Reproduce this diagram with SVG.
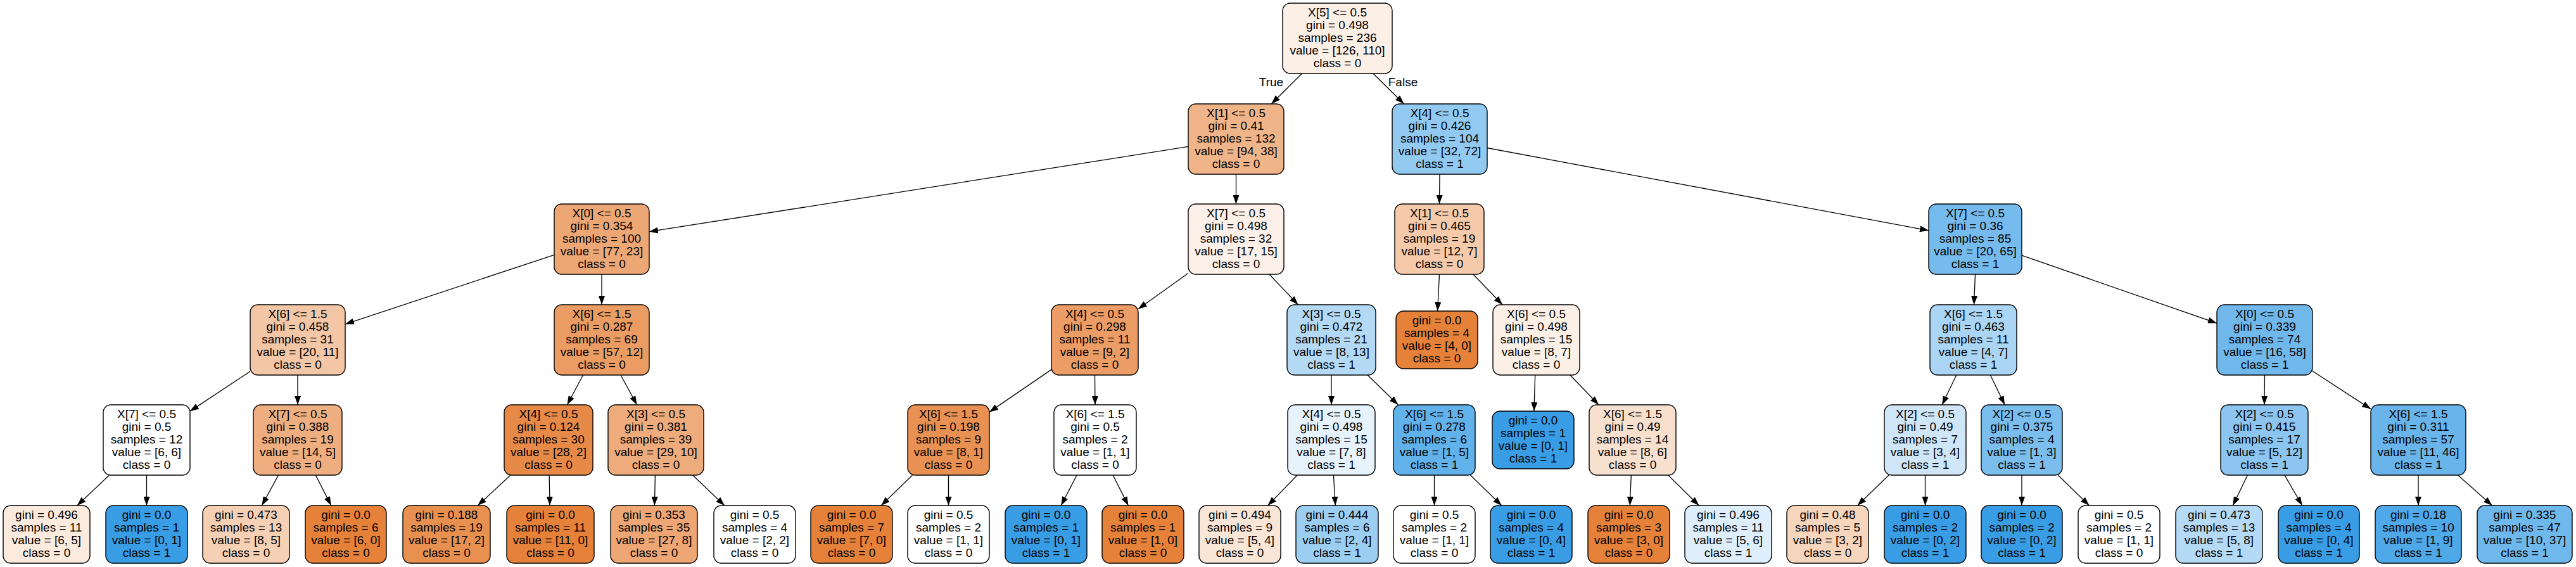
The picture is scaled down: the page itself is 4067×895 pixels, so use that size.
<svg xmlns="http://www.w3.org/2000/svg" width="4067" height="895" viewBox="0 0 4067 895">
<style>
.box{stroke:#000;stroke-width:1.4}
.t{font-family:"Liberation Sans",Arial,Helvetica,sans-serif;font-size:19px;text-anchor:middle;fill:#000}
.e{stroke:#000;stroke-width:1.3;fill:none;marker-end:url(#ah)}
</style>
<defs>
<marker id="ah" markerUnits="userSpaceOnUse" markerWidth="14" markerHeight="10" refX="14" refY="5" orient="auto" viewBox="0 0 14 10">
<path d="M0,0 L14,5 L0,10 z" fill="#000"/>
</marker>
</defs>
<rect width="4067" height="895" fill="#fff"/>
<g id="edges">
<line class="e" x1="2055.6" y1="116" x2="2007.3" y2="164"/>
<line class="e" x1="2167.9" y1="116" x2="2216.6" y2="164"/>
<line class="e" x1="1876" y1="231.4" x2="1025" y2="365.7"/>
<line class="e" x1="1951.5" y1="275" x2="1951.5" y2="322"/>
<line class="e" x1="2273" y1="275" x2="2272.5" y2="322"/>
<line class="e" x1="2348" y1="233.5" x2="3045" y2="363.8"/>
<line class="e" x1="875" y1="402.3" x2="545" y2="511.7"/>
<line class="e" x1="950" y1="433" x2="950" y2="481"/>
<line class="e" x1="1876" y1="431.3" x2="1797" y2="487.7"/>
<line class="e" x1="2004" y1="433" x2="2049.5" y2="481"/>
<line class="e" x1="2272.5" y1="433" x2="2269.6" y2="491"/>
<line class="e" x1="2325.9" y1="433" x2="2372.1" y2="481"/>
<line class="e" x1="3118.5" y1="433" x2="3116.5" y2="481"/>
<line class="e" x1="3192" y1="403.1" x2="3500" y2="510.2"/>
<line class="e" x1="395" y1="586.2" x2="300" y2="649.1"/>
<line class="e" x1="470" y1="592" x2="470" y2="639"/>
<line class="e" x1="920.5" y1="592" x2="895.5" y2="639"/>
<line class="e" x1="980" y1="592" x2="1005.5" y2="639"/>
<line class="e" x1="1660" y1="583.4" x2="1562" y2="650.4"/>
<line class="e" x1="1728.5" y1="592" x2="1729" y2="639"/>
<line class="e" x1="2102" y1="592" x2="2102" y2="639"/>
<line class="e" x1="2159.1" y1="592" x2="2207.4" y2="639"/>
<line class="e" x1="2423.7" y1="592" x2="2421.9" y2="649"/>
<line class="e" x1="2478.9" y1="592" x2="2524.1" y2="639"/>
<line class="e" x1="3088.8" y1="592" x2="3066.2" y2="639"/>
<line class="e" x1="3142.4" y1="592" x2="3165.1" y2="639"/>
<line class="e" x1="3575.5" y1="592" x2="3575" y2="639"/>
<line class="e" x1="3651" y1="585.7" x2="3743" y2="645.6"/>
<line class="e" x1="172.6" y1="750" x2="121.8" y2="798"/>
<line class="e" x1="231.5" y1="750" x2="231.5" y2="798"/>
<line class="e" x1="439.6" y1="750" x2="413.4" y2="798"/>
<line class="e" x1="498.3" y1="750" x2="522.8" y2="798"/>
<line class="e" x1="806" y1="750" x2="754.2" y2="798"/>
<line class="e" x1="867.1" y1="750" x2="868.1" y2="798"/>
<line class="e" x1="1034.4" y1="750" x2="1033.4" y2="798"/>
<line class="e" x1="1093.6" y1="750" x2="1143.9" y2="798"/>
<line class="e" x1="1440.5" y1="750" x2="1391.2" y2="798"/>
<line class="e" x1="1497.5" y1="750" x2="1497.5" y2="798"/>
<line class="e" x1="1700.1" y1="750" x2="1675.2" y2="798"/>
<line class="e" x1="1757.1" y1="750" x2="1781.4" y2="798"/>
<line class="e" x1="2048.2" y1="750" x2="2001.6" y2="798"/>
<line class="e" x1="2105.4" y1="750" x2="2108.3" y2="798"/>
<line class="e" x1="2264.5" y1="750" x2="2264.5" y2="798"/>
<line class="e" x1="2321.5" y1="750" x2="2370.8" y2="798"/>
<line class="e" x1="2575.3" y1="750" x2="2573.3" y2="798"/>
<line class="e" x1="2633.7" y1="750" x2="2682.4" y2="798"/>
<line class="e" x1="2982.1" y1="750" x2="2932.5" y2="798"/>
<line class="e" x1="3039.5" y1="750" x2="3039.5" y2="798"/>
<line class="e" x1="3192" y1="750" x2="3192" y2="798"/>
<line class="e" x1="3249.2" y1="750" x2="3298.6" y2="798"/>
<line class="e" x1="3548.4" y1="750" x2="3525.3" y2="798"/>
<line class="e" x1="3607" y1="750" x2="3634.7" y2="798"/>
<line class="e" x1="3818" y1="750" x2="3818" y2="798"/>
<line class="e" x1="3880.6" y1="750" x2="3934.7" y2="798"/>
<text class="t" x="2007" y="136">True</text>
<text class="t" x="2215" y="136">False</text>
</g>
<g id="node0"><rect class="box" x="2025" y="5" width="173" height="111" rx="12" fill="#fcefe6"/><text class="t"><tspan x="2111.5" y="26">X[5] &lt;= 0.5</tspan><tspan x="2111.5" y="46">gini = 0.498</tspan><tspan x="2111.5" y="66">samples = 236</tspan><tspan x="2111.5" y="86">value = [126, 110]</tspan><tspan x="2111.5" y="106">class = 0</tspan></text></g>
<g id="node1"><rect class="box" x="1876" y="164" width="151" height="111" rx="12" fill="#f0b489"/><text class="t"><tspan x="1951.5" y="185">X[1] &lt;= 0.5</tspan><tspan x="1951.5" y="205">gini = 0.41</tspan><tspan x="1951.5" y="225">samples = 132</tspan><tspan x="1951.5" y="245">value = [94, 38]</tspan><tspan x="1951.5" y="265">class = 0</tspan></text></g>
<g id="node2"><rect class="box" x="2198" y="164" width="150" height="111" rx="12" fill="#91c9f1"/><text class="t"><tspan x="2273" y="185">X[4] &lt;= 0.5</tspan><tspan x="2273" y="205">gini = 0.426</tspan><tspan x="2273" y="225">samples = 104</tspan><tspan x="2273" y="245">value = [32, 72]</tspan><tspan x="2273" y="265">class = 1</tspan></text></g>
<g id="node3"><rect class="box" x="875" y="322" width="150" height="111" rx="12" fill="#eda774"/><text class="t"><tspan x="950" y="343">X[0] &lt;= 0.5</tspan><tspan x="950" y="363">gini = 0.354</tspan><tspan x="950" y="383">samples = 100</tspan><tspan x="950" y="403">value = [77, 23]</tspan><tspan x="950" y="423">class = 0</tspan></text></g>
<g id="node4"><rect class="box" x="1876" y="322" width="151" height="111" rx="12" fill="#fcf0e8"/><text class="t"><tspan x="1951.5" y="343">X[7] &lt;= 0.5</tspan><tspan x="1951.5" y="363">gini = 0.498</tspan><tspan x="1951.5" y="383">samples = 32</tspan><tspan x="1951.5" y="403">value = [17, 15]</tspan><tspan x="1951.5" y="423">class = 0</tspan></text></g>
<g id="node5"><rect class="box" x="2202" y="322" width="141" height="111" rx="12" fill="#f4caab"/><text class="t"><tspan x="2272.5" y="343">X[1] &lt;= 0.5</tspan><tspan x="2272.5" y="363">gini = 0.465</tspan><tspan x="2272.5" y="383">samples = 19</tspan><tspan x="2272.5" y="403">value = [12, 7]</tspan><tspan x="2272.5" y="423">class = 0</tspan></text></g>
<g id="node6"><rect class="box" x="3045" y="322" width="147" height="111" rx="12" fill="#76bbed"/><text class="t"><tspan x="3118.5" y="343">X[7] &lt;= 0.5</tspan><tspan x="3118.5" y="363">gini = 0.36</tspan><tspan x="3118.5" y="383">samples = 85</tspan><tspan x="3118.5" y="403">value = [20, 65]</tspan><tspan x="3118.5" y="423">class = 1</tspan></text></g>
<g id="node7"><rect class="box" x="395" y="481" width="150" height="111" rx="12" fill="#f3c6a6"/><text class="t"><tspan x="470" y="502">X[6] &lt;= 1.5</tspan><tspan x="470" y="522">gini = 0.458</tspan><tspan x="470" y="542">samples = 31</tspan><tspan x="470" y="562">value = [20, 11]</tspan><tspan x="470" y="582">class = 0</tspan></text></g>
<g id="node8"><rect class="box" x="875" y="481" width="150" height="111" rx="12" fill="#ea9c63"/><text class="t"><tspan x="950" y="502">X[6] &lt;= 1.5</tspan><tspan x="950" y="522">gini = 0.287</tspan><tspan x="950" y="542">samples = 69</tspan><tspan x="950" y="562">value = [57, 12]</tspan><tspan x="950" y="582">class = 0</tspan></text></g>
<g id="node9"><rect class="box" x="1660" y="481" width="137" height="111" rx="12" fill="#eb9d65"/><text class="t"><tspan x="1728.5" y="502">X[4] &lt;= 0.5</tspan><tspan x="1728.5" y="522">gini = 0.298</tspan><tspan x="1728.5" y="542">samples = 11</tspan><tspan x="1728.5" y="562">value = [9, 2]</tspan><tspan x="1728.5" y="582">class = 0</tspan></text></g>
<g id="node10"><rect class="box" x="2032" y="481" width="140" height="111" rx="12" fill="#b3d9f5"/><text class="t"><tspan x="2102" y="502">X[3] &lt;= 0.5</tspan><tspan x="2102" y="522">gini = 0.472</tspan><tspan x="2102" y="542">samples = 21</tspan><tspan x="2102" y="562">value = [8, 13]</tspan><tspan x="2102" y="582">class = 1</tspan></text></g>
<g id="node11"><rect class="box" x="2204" y="491" width="129" height="91" rx="12" fill="#e58139"/><text class="t"><tspan x="2268.5" y="512">gini = 0.0</tspan><tspan x="2268.5" y="532">samples = 4</tspan><tspan x="2268.5" y="552">value = [4, 0]</tspan><tspan x="2268.5" y="572">class = 0</tspan></text></g>
<g id="node12"><rect class="box" x="2357" y="481" width="137" height="111" rx="12" fill="#fcefe6"/><text class="t"><tspan x="2425.5" y="502">X[6] &lt;= 0.5</tspan><tspan x="2425.5" y="522">gini = 0.498</tspan><tspan x="2425.5" y="542">samples = 15</tspan><tspan x="2425.5" y="562">value = [8, 7]</tspan><tspan x="2425.5" y="582">class = 0</tspan></text></g>
<g id="node13"><rect class="box" x="3047" y="481" width="137" height="111" rx="12" fill="#aad5f4"/><text class="t"><tspan x="3115.5" y="502">X[6] &lt;= 1.5</tspan><tspan x="3115.5" y="522">gini = 0.463</tspan><tspan x="3115.5" y="542">samples = 11</tspan><tspan x="3115.5" y="562">value = [4, 7]</tspan><tspan x="3115.5" y="582">class = 1</tspan></text></g>
<g id="node14"><rect class="box" x="3500" y="481" width="151" height="111" rx="12" fill="#70b8ec"/><text class="t"><tspan x="3575.5" y="502">X[0] &lt;= 0.5</tspan><tspan x="3575.5" y="522">gini = 0.339</tspan><tspan x="3575.5" y="542">samples = 74</tspan><tspan x="3575.5" y="562">value = [16, 58]</tspan><tspan x="3575.5" y="582">class = 1</tspan></text></g>
<g id="node15"><rect class="box" x="163" y="639" width="137" height="111" rx="12" fill="#ffffff"/><text class="t"><tspan x="231.5" y="660">X[7] &lt;= 0.5</tspan><tspan x="231.5" y="680">gini = 0.5</tspan><tspan x="231.5" y="700">samples = 12</tspan><tspan x="231.5" y="720">value = [6, 6]</tspan><tspan x="231.5" y="740">class = 0</tspan></text></g>
<g id="node16"><rect class="box" x="400" y="639" width="140" height="111" rx="12" fill="#eeae80"/><text class="t"><tspan x="470" y="660">X[7] &lt;= 0.5</tspan><tspan x="470" y="680">gini = 0.388</tspan><tspan x="470" y="700">samples = 19</tspan><tspan x="470" y="720">value = [14, 5]</tspan><tspan x="470" y="740">class = 0</tspan></text></g>
<g id="node17"><rect class="box" x="796" y="639" width="140" height="111" rx="12" fill="#e78a47"/><text class="t"><tspan x="866" y="660">X[4] &lt;= 0.5</tspan><tspan x="866" y="680">gini = 0.124</tspan><tspan x="866" y="700">samples = 30</tspan><tspan x="866" y="720">value = [28, 2]</tspan><tspan x="866" y="740">class = 0</tspan></text></g>
<g id="node18"><rect class="box" x="960" y="639" width="151" height="111" rx="12" fill="#eeac7d"/><text class="t"><tspan x="1035.5" y="660">X[3] &lt;= 0.5</tspan><tspan x="1035.5" y="680">gini = 0.381</tspan><tspan x="1035.5" y="700">samples = 39</tspan><tspan x="1035.5" y="720">value = [29, 10]</tspan><tspan x="1035.5" y="740">class = 0</tspan></text></g>
<g id="node19"><rect class="box" x="1433" y="639" width="129" height="111" rx="12" fill="#e89152"/><text class="t"><tspan x="1497.5" y="660">X[6] &lt;= 1.5</tspan><tspan x="1497.5" y="680">gini = 0.198</tspan><tspan x="1497.5" y="700">samples = 9</tspan><tspan x="1497.5" y="720">value = [8, 1]</tspan><tspan x="1497.5" y="740">class = 0</tspan></text></g>
<g id="node20"><rect class="box" x="1664" y="639" width="130" height="111" rx="12" fill="#ffffff"/><text class="t"><tspan x="1729" y="660">X[6] &lt;= 1.5</tspan><tspan x="1729" y="680">gini = 0.5</tspan><tspan x="1729" y="700">samples = 2</tspan><tspan x="1729" y="720">value = [1, 1]</tspan><tspan x="1729" y="740">class = 0</tspan></text></g>
<g id="node21"><rect class="box" x="2033" y="639" width="138" height="111" rx="12" fill="#e6f3fc"/><text class="t"><tspan x="2102" y="660">X[4] &lt;= 0.5</tspan><tspan x="2102" y="680">gini = 0.498</tspan><tspan x="2102" y="700">samples = 15</tspan><tspan x="2102" y="720">value = [7, 8]</tspan><tspan x="2102" y="740">class = 1</tspan></text></g>
<g id="node22"><rect class="box" x="2200" y="639" width="129" height="111" rx="12" fill="#61b1ea"/><text class="t"><tspan x="2264.5" y="660">X[6] &lt;= 1.5</tspan><tspan x="2264.5" y="680">gini = 0.278</tspan><tspan x="2264.5" y="700">samples = 6</tspan><tspan x="2264.5" y="720">value = [1, 5]</tspan><tspan x="2264.5" y="740">class = 1</tspan></text></g>
<g id="node23"><rect class="box" x="2356" y="649" width="129" height="91" rx="12" fill="#399de5"/><text class="t"><tspan x="2420.5" y="670">gini = 0.0</tspan><tspan x="2420.5" y="690">samples = 1</tspan><tspan x="2420.5" y="710">value = [0, 1]</tspan><tspan x="2420.5" y="730">class = 1</tspan></text></g>
<g id="node24"><rect class="box" x="2509" y="639" width="137" height="111" rx="12" fill="#f8e0ce"/><text class="t"><tspan x="2577.5" y="660">X[6] &lt;= 1.5</tspan><tspan x="2577.5" y="680">gini = 0.49</tspan><tspan x="2577.5" y="700">samples = 14</tspan><tspan x="2577.5" y="720">value = [8, 6]</tspan><tspan x="2577.5" y="740">class = 0</tspan></text></g>
<g id="node25"><rect class="box" x="2975" y="639" width="129" height="111" rx="12" fill="#cee6f8"/><text class="t"><tspan x="3039.5" y="660">X[2] &lt;= 0.5</tspan><tspan x="3039.5" y="680">gini = 0.49</tspan><tspan x="3039.5" y="700">samples = 7</tspan><tspan x="3039.5" y="720">value = [3, 4]</tspan><tspan x="3039.5" y="740">class = 1</tspan></text></g>
<g id="node26"><rect class="box" x="3128" y="639" width="128" height="111" rx="12" fill="#7bbeee"/><text class="t"><tspan x="3192" y="660">X[2] &lt;= 0.5</tspan><tspan x="3192" y="680">gini = 0.375</tspan><tspan x="3192" y="700">samples = 4</tspan><tspan x="3192" y="720">value = [1, 3]</tspan><tspan x="3192" y="740">class = 1</tspan></text></g>
<g id="node27"><rect class="box" x="3506" y="639" width="138" height="111" rx="12" fill="#8cc6f0"/><text class="t"><tspan x="3575" y="660">X[2] &lt;= 0.5</tspan><tspan x="3575" y="680">gini = 0.415</tspan><tspan x="3575" y="700">samples = 17</tspan><tspan x="3575" y="720">value = [5, 12]</tspan><tspan x="3575" y="740">class = 1</tspan></text></g>
<g id="node28"><rect class="box" x="3743" y="639" width="150" height="111" rx="12" fill="#68b4eb"/><text class="t"><tspan x="3818" y="660">X[6] &lt;= 1.5</tspan><tspan x="3818" y="680">gini = 0.311</tspan><tspan x="3818" y="700">samples = 57</tspan><tspan x="3818" y="720">value = [11, 46]</tspan><tspan x="3818" y="740">class = 1</tspan></text></g>
<g id="node29"><rect class="box" x="5" y="798" width="137" height="91" rx="12" fill="#fbeade"/><text class="t"><tspan x="73.5" y="819">gini = 0.496</tspan><tspan x="73.5" y="839">samples = 11</tspan><tspan x="73.5" y="859">value = [6, 5]</tspan><tspan x="73.5" y="879">class = 0</tspan></text></g>
<g id="node30"><rect class="box" x="167" y="798" width="129" height="91" rx="12" fill="#399de5"/><text class="t"><tspan x="231.5" y="819">gini = 0.0</tspan><tspan x="231.5" y="839">samples = 1</tspan><tspan x="231.5" y="859">value = [0, 1]</tspan><tspan x="231.5" y="879">class = 1</tspan></text></g>
<g id="node31"><rect class="box" x="320" y="798" width="137" height="91" rx="12" fill="#f5d0b5"/><text class="t"><tspan x="388.5" y="819">gini = 0.473</tspan><tspan x="388.5" y="839">samples = 13</tspan><tspan x="388.5" y="859">value = [8, 5]</tspan><tspan x="388.5" y="879">class = 0</tspan></text></g>
<g id="node32"><rect class="box" x="482" y="798" width="128" height="91" rx="12" fill="#e58139"/><text class="t"><tspan x="546" y="819">gini = 0.0</tspan><tspan x="546" y="839">samples = 6</tspan><tspan x="546" y="859">value = [6, 0]</tspan><tspan x="546" y="879">class = 0</tspan></text></g>
<g id="node33"><rect class="box" x="636" y="798" width="138" height="91" rx="12" fill="#e89050"/><text class="t"><tspan x="705" y="819">gini = 0.188</tspan><tspan x="705" y="839">samples = 19</tspan><tspan x="705" y="859">value = [17, 2]</tspan><tspan x="705" y="879">class = 0</tspan></text></g>
<g id="node34"><rect class="box" x="800" y="798" width="138" height="91" rx="12" fill="#e58139"/><text class="t"><tspan x="869" y="819">gini = 0.0</tspan><tspan x="869" y="839">samples = 11</tspan><tspan x="869" y="859">value = [11, 0]</tspan><tspan x="869" y="879">class = 0</tspan></text></g>
<g id="node35"><rect class="box" x="964" y="798" width="137" height="91" rx="12" fill="#eda674"/><text class="t"><tspan x="1032.5" y="819">gini = 0.353</tspan><tspan x="1032.5" y="839">samples = 35</tspan><tspan x="1032.5" y="859">value = [27, 8]</tspan><tspan x="1032.5" y="879">class = 0</tspan></text></g>
<g id="node36"><rect class="box" x="1127" y="798" width="129" height="91" rx="12" fill="#ffffff"/><text class="t"><tspan x="1191.5" y="819">gini = 0.5</tspan><tspan x="1191.5" y="839">samples = 4</tspan><tspan x="1191.5" y="859">value = [2, 2]</tspan><tspan x="1191.5" y="879">class = 0</tspan></text></g>
<g id="node37"><rect class="box" x="1280" y="798" width="129" height="91" rx="12" fill="#e58139"/><text class="t"><tspan x="1344.5" y="819">gini = 0.0</tspan><tspan x="1344.5" y="839">samples = 7</tspan><tspan x="1344.5" y="859">value = [7, 0]</tspan><tspan x="1344.5" y="879">class = 0</tspan></text></g>
<g id="node38"><rect class="box" x="1433" y="798" width="129" height="91" rx="12" fill="#ffffff"/><text class="t"><tspan x="1497.5" y="819">gini = 0.5</tspan><tspan x="1497.5" y="839">samples = 2</tspan><tspan x="1497.5" y="859">value = [1, 1]</tspan><tspan x="1497.5" y="879">class = 0</tspan></text></g>
<g id="node39"><rect class="box" x="1587" y="798" width="129" height="91" rx="12" fill="#399de5"/><text class="t"><tspan x="1651.5" y="819">gini = 0.0</tspan><tspan x="1651.5" y="839">samples = 1</tspan><tspan x="1651.5" y="859">value = [0, 1]</tspan><tspan x="1651.5" y="879">class = 1</tspan></text></g>
<g id="node40"><rect class="box" x="1740" y="798" width="129" height="91" rx="12" fill="#e58139"/><text class="t"><tspan x="1804.5" y="819">gini = 0.0</tspan><tspan x="1804.5" y="839">samples = 1</tspan><tspan x="1804.5" y="859">value = [1, 0]</tspan><tspan x="1804.5" y="879">class = 0</tspan></text></g>
<g id="node41"><rect class="box" x="1893" y="798" width="129" height="91" rx="12" fill="#fae6d7"/><text class="t"><tspan x="1957.5" y="819">gini = 0.494</tspan><tspan x="1957.5" y="839">samples = 9</tspan><tspan x="1957.5" y="859">value = [5, 4]</tspan><tspan x="1957.5" y="879">class = 0</tspan></text></g>
<g id="node42"><rect class="box" x="2046" y="798" width="130" height="91" rx="12" fill="#9ccef2"/><text class="t"><tspan x="2111" y="819">gini = 0.444</tspan><tspan x="2111" y="839">samples = 6</tspan><tspan x="2111" y="859">value = [2, 4]</tspan><tspan x="2111" y="879">class = 1</tspan></text></g>
<g id="node43"><rect class="box" x="2200" y="798" width="129" height="91" rx="12" fill="#ffffff"/><text class="t"><tspan x="2264.5" y="819">gini = 0.5</tspan><tspan x="2264.5" y="839">samples = 2</tspan><tspan x="2264.5" y="859">value = [1, 1]</tspan><tspan x="2264.5" y="879">class = 0</tspan></text></g>
<g id="node44"><rect class="box" x="2353" y="798" width="129" height="91" rx="12" fill="#399de5"/><text class="t"><tspan x="2417.5" y="819">gini = 0.0</tspan><tspan x="2417.5" y="839">samples = 4</tspan><tspan x="2417.5" y="859">value = [0, 4]</tspan><tspan x="2417.5" y="879">class = 1</tspan></text></g>
<g id="node45"><rect class="box" x="2507" y="798" width="129" height="91" rx="12" fill="#e58139"/><text class="t"><tspan x="2571.5" y="819">gini = 0.0</tspan><tspan x="2571.5" y="839">samples = 3</tspan><tspan x="2571.5" y="859">value = [3, 0]</tspan><tspan x="2571.5" y="879">class = 0</tspan></text></g>
<g id="node46"><rect class="box" x="2660" y="798" width="137" height="91" rx="12" fill="#deeffb"/><text class="t"><tspan x="2728.5" y="819">gini = 0.496</tspan><tspan x="2728.5" y="839">samples = 11</tspan><tspan x="2728.5" y="859">value = [5, 6]</tspan><tspan x="2728.5" y="879">class = 1</tspan></text></g>
<g id="node47"><rect class="box" x="2821" y="798" width="129" height="91" rx="12" fill="#f6d5bd"/><text class="t"><tspan x="2885.5" y="819">gini = 0.48</tspan><tspan x="2885.5" y="839">samples = 5</tspan><tspan x="2885.5" y="859">value = [3, 2]</tspan><tspan x="2885.5" y="879">class = 0</tspan></text></g>
<g id="node48"><rect class="box" x="2975" y="798" width="129" height="91" rx="12" fill="#399de5"/><text class="t"><tspan x="3039.5" y="819">gini = 0.0</tspan><tspan x="3039.5" y="839">samples = 2</tspan><tspan x="3039.5" y="859">value = [0, 2]</tspan><tspan x="3039.5" y="879">class = 1</tspan></text></g>
<g id="node49"><rect class="box" x="3128" y="798" width="128" height="91" rx="12" fill="#399de5"/><text class="t"><tspan x="3192" y="819">gini = 0.0</tspan><tspan x="3192" y="839">samples = 2</tspan><tspan x="3192" y="859">value = [0, 2]</tspan><tspan x="3192" y="879">class = 1</tspan></text></g>
<g id="node50"><rect class="box" x="3281" y="798" width="129" height="91" rx="12" fill="#ffffff"/><text class="t"><tspan x="3345.5" y="819">gini = 0.5</tspan><tspan x="3345.5" y="839">samples = 2</tspan><tspan x="3345.5" y="859">value = [1, 1]</tspan><tspan x="3345.5" y="879">class = 0</tspan></text></g>
<g id="node51"><rect class="box" x="3435" y="798" width="137" height="91" rx="12" fill="#b5daf5"/><text class="t"><tspan x="3503.5" y="819">gini = 0.473</tspan><tspan x="3503.5" y="839">samples = 13</tspan><tspan x="3503.5" y="859">value = [5, 8]</tspan><tspan x="3503.5" y="879">class = 1</tspan></text></g>
<g id="node52"><rect class="box" x="3597" y="798" width="128" height="91" rx="12" fill="#399de5"/><text class="t"><tspan x="3661" y="819">gini = 0.0</tspan><tspan x="3661" y="839">samples = 4</tspan><tspan x="3661" y="859">value = [0, 4]</tspan><tspan x="3661" y="879">class = 1</tspan></text></g>
<g id="node53"><rect class="box" x="3750" y="798" width="136" height="91" rx="12" fill="#4fa8e8"/><text class="t"><tspan x="3818" y="819">gini = 0.18</tspan><tspan x="3818" y="839">samples = 10</tspan><tspan x="3818" y="859">value = [1, 9]</tspan><tspan x="3818" y="879">class = 1</tspan></text></g>
<g id="node54"><rect class="box" x="3911" y="798" width="150" height="91" rx="12" fill="#6fb8ec"/><text class="t"><tspan x="3986" y="819">gini = 0.335</tspan><tspan x="3986" y="839">samples = 47</tspan><tspan x="3986" y="859">value = [10, 37]</tspan><tspan x="3986" y="879">class = 1</tspan></text></g>
</svg>
